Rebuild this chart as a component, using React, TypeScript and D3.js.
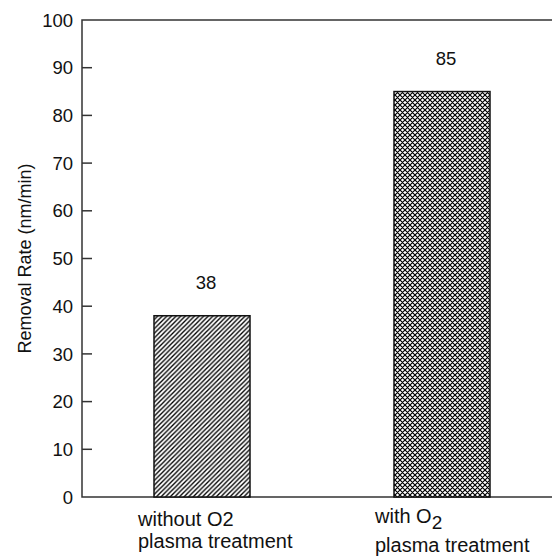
import React from "react";
import * as d3 from "d3";

// Removal rate by treatment
const categories = ["without", "with"];
const values = [38, 85];
const patterns = ["hatch", "cross"];
const yTicks = [0, 10, 20, 30, 40, 50, 60, 70, 80, 90, 100];

const W = 552;
const H = 557;
const FONT = "'Liberation Sans', Arial, sans-serif";

export default function App() {
  const left = 82;
  const top = 20;
  const bottom = 497;
  const right = 562;

  const y = d3.scaleLinear().domain([0, 100]).range([bottom, top]);
  const x = d3
    .scaleBand<string>()
    .domain(categories)
    .range([left, right])
    .paddingInner(0.6)
    .paddingOuter(0.3);

  const bw = x.bandwidth();

  return (
    <svg
      width={W}
      height={H}
      style={{ position: "absolute", left: 0, top: 0, background: "#fff" }}
      fontFamily={FONT}
    >
      <defs>
        <pattern id="hatch" patternUnits="userSpaceOnUse" width={4.6} height={4.6}>
          <rect width={4.6} height={4.6} fill="#fff" />
          <path
            d="M-1.15,1.15 L1.15,-1.15 M0,4.6 L4.6,0 M3.45,5.75 L5.75,3.45"
            stroke="#000"
            strokeWidth={1.35}
          />
        </pattern>
        <pattern id="cross" patternUnits="userSpaceOnUse" width={5} height={5}>
          <rect width={5} height={5} fill="#fff" />
          <path
            d="M-1.25,1.25 L1.25,-1.25 M0,5 L5,0 M3.75,6.25 L6.25,3.75 M-1.25,3.75 L1.25,6.25 M0,0 L5,5 M3.75,-1.25 L6.25,1.25"
            stroke="#000"
            strokeWidth={1.2}
          />
        </pattern>
      </defs>

      {/* frame */}
      <path
        d={`M${right},${top} L${left},${top} L${left},${bottom} L${right},${bottom}`}
        fill="none"
        stroke="#333"
        strokeWidth={1.5}
      />

      {/* y ticks */}
      {yTicks.map((t) => (
        <g key={t}>
          {t > 0 && t < 100 && (
            <line x1={left} x2={left + 10} y1={y(t)} y2={y(t)} stroke="#333" strokeWidth={1.5} />
          )}
          <text
            x={73}
            y={y(t)}
            dy="0.36em"
            textAnchor="end"
            fontSize={18.5}
            fill="#111"
          >
            {t}
          </text>
        </g>
      ))}

      {/* y axis title */}
      <text
        transform={`translate(31,${(top + bottom) / 2}) rotate(-90)`}
        textAnchor="middle"
        fontSize={18}
        fill="#111"
      >
        Removal Rate (nm/min)
      </text>

      {/* bars */}
      {categories.map((c, i) => (
        <g key={c}>
          <rect
            x={x(c)}
            y={y(values[i])}
            width={bw}
            height={y(0) - y(values[i])}
            fill={`url(#${patterns[i]})`}
            stroke="#111"
            strokeWidth={1.5}
          />
          <text
            x={(x(c) as number) + bw / 2 + 4}
            y={y(values[i]) - 27}
            textAnchor="middle"
            fontSize={18.5}
            fill="#111"
          >
            {values[i]}
          </text>
        </g>
      ))}

      {/* category labels */}
      <text x={(x("without") as number) - 16} y={526} fontSize={20} fill="#111">
        without O2
      </text>
      <text x={(x("without") as number) - 16} y={548} fontSize={20} fill="#111">
        plasma treatment
      </text>
      <text x={(x("with") as number) - 19} y={523} fontSize={20} fill="#111">
        with O<tspan fontSize={19} dy={6}>2</tspan>
      </text>
      <text x={(x("with") as number) - 19} y={552} fontSize={20} fill="#111">
        plasma treatment
      </text>
    </svg>
  );
}
